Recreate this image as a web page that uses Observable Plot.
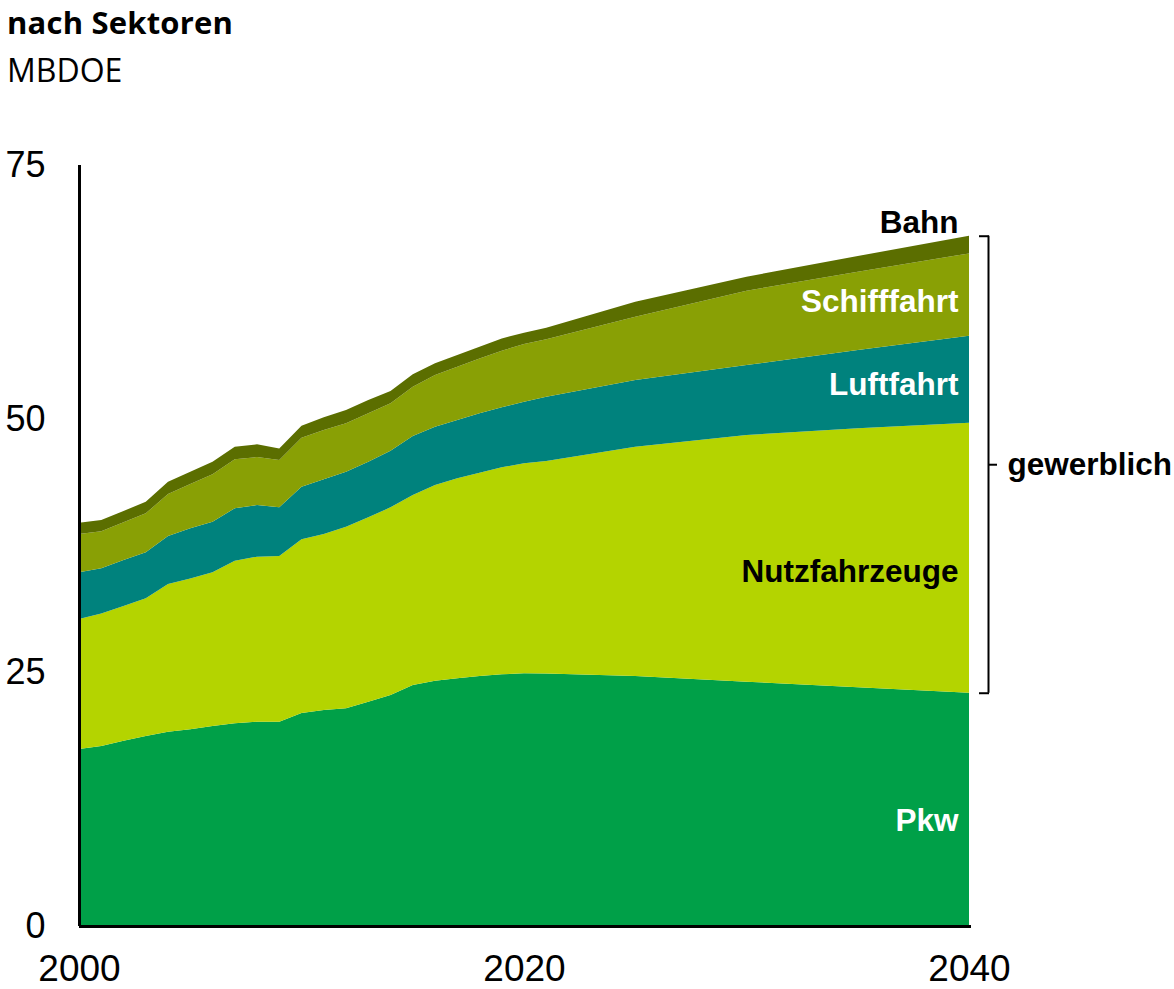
<!DOCTYPE html>
<html>
<head>
<meta charset="utf-8">
<script src="https://cdn.jsdelivr.net/npm/d3@7"></script>
<script src="https://cdn.jsdelivr.net/npm/@observablehq/plot@0.6"></script>
<style>
  body { margin: 0; background: #fff; }
  #header { position: relative; width: 1174px; height: 100px; font-family: "Open Sans", sans-serif; color: #000; }
  #title { position: absolute; left: 7px; top: 10px; font-size: 31px; font-weight: 700; line-height: 0.8; white-space: nowrap; letter-spacing: 0.2px; }
  #subtitle { position: absolute; left: 7px; top: 57px; font-size: 32px; font-weight: 400; line-height: 0.8; white-space: nowrap; }
</style>
</head>
<body>
<div id="header"><div id="title">nach Sektoren</div><div id="subtitle">MBDOE</div></div>
<div id="chart"></div>
<script>
const years  = [2000,2001,2002,2003,2004,2005,2006,2007,2008,2009,2010,2011,2012,2013,2014,2015,2016,2017,2018,2019,2020,2021,2025,2030,2035,2040];
const pkw    = [17.44,17.74,18.26,18.72,19.15,19.38,19.71,19.97,20.13,20.13,21.00,21.29,21.45,22.10,22.77,23.75,24.18,24.41,24.64,24.80,24.90,24.88,24.64,24.08,23.52,22.99];
const nutz   = [12.82,13.07,13.28,13.57,14.55,14.88,15.15,16.03,16.27,16.33,17.11,17.34,17.90,18.18,18.49,18.73,19.28,19.71,20.03,20.40,20.70,20.95,22.60,24.31,25.53,26.61];
const luft   = [4.60,4.44,4.53,4.54,4.73,4.93,4.99,5.16,5.09,4.80,5.19,5.39,5.42,5.48,5.58,5.81,5.75,5.75,5.86,5.92,6.07,6.33,6.57,6.90,7.72,8.58];
const schiff = [3.77,3.65,3.71,3.84,4.14,4.37,4.66,4.83,4.73,4.66,4.82,4.86,4.77,4.77,4.67,4.86,5.09,5.25,5.41,5.58,5.69,5.66,6.24,7.32,7.71,8.11];
const bahn   = [1.12,1.11,1.12,1.15,1.22,1.21,1.25,1.25,1.25,1.15,1.19,1.25,1.31,1.31,1.21,1.22,1.15,1.15,1.15,1.21,1.11,1.13,1.48,1.38,1.55,1.74];

const seriesNames = ["Pkw","Nutzfahrzeuge","Luftfahrt","Schifffahrt","Bahn"];
const seriesValues = [pkw, nutz, luft, schiff, bahn];
const seriesColors = ["#00A048","#B4D400","#00827D","#89A005","#5B6E00"];
const labelColors  = ["#ffffff","#000000","#ffffff","#ffffff","#000000"];
const groupLabel = "gewerblich";
const yTicks = [0,25,50,75];
const xTicks = [2000,2020,2040];

// long table
const rows = [];
seriesNames.forEach((s, i) => years.forEach((yr, j) => rows.push({year: yr, series: s, value: seriesValues[i][j]})));

// label positions at last year from stacked values
const last = years.length - 1;
const lastYear = years[last];
let cum = 0;
const bands = seriesValues.map((vals, i) => { const lo = cum; cum += vals[last]; return {lo, hi: cum}; });
const total = cum;
const labelDy = [11, 14, 5, 7, 0];
const labelFont = "Liberation Sans, Arial, sans-serif";
const labelMarks = seriesNames.map((name, i) => {
  const isTop = i === seriesNames.length - 1;
  const yv = isTop ? bands[i].hi : (bands[i].lo + bands[i].hi) / 2;
  return Plot.text([{x: lastYear, y: yv, t: name}], {
    x: "x", y: "y", text: "t", textAnchor: "end", dx: -11,
    dy: isTop ? -13 : labelDy[i], fill: labelColors[i],
    fontSize: 31.5, fontWeight: "bold", fontFamily: labelFont
  });
});
const bracketLo = bands[0].hi;
const bracketHi = total;
const bracketMid = (bracketLo + bracketHi) / 2;

const chart = Plot.plot({
  width: 1174, height: 889,
  marginTop: 65, marginBottom: 63, marginLeft: 79, marginRight: 205,
  x: {domain: [2000, 2040]},
  y: {domain: [0, 75]},
  color: {domain: seriesNames, range: seriesColors},
  style: {background: "#fff"},
  marks: [
    Plot.areaY(rows, {x: "year", y: "value", z: "series", fill: "series", order: seriesNames}),
    Plot.ruleX([2000], {y1: 0, y2: 75, stroke: "#000", strokeWidth: 3}),
    Plot.ruleY([0], {x1: 2000, x2: 2040, stroke: "#000", strokeWidth: 3, insetRight: -2}),
    Plot.axisX({ticks: xTicks, tickFormat: d => String(d), tickSize: 0, tickPadding: 28, fontSize: 37, fontFamily: labelFont, label: null, fill: "#000"}),
    Plot.axisY({ticks: yTicks, tickSize: 0, tickPadding: 34, fontSize: 36, fontFamily: labelFont, label: null, fill: "#000"}),
    ...labelMarks,
    // bracket
    Plot.ruleX([lastYear], {y1: bracketLo, y2: bracketHi, dx: 19, stroke: "#000", strokeWidth: 2}),
    Plot.ruleY([bracketLo, bracketHi], {x1: lastYear, x2: lastYear, insetLeft: 10, insetRight: -20, stroke: "#000", strokeWidth: 2}),
    Plot.ruleY([bracketMid], {x1: lastYear, x2: lastYear, insetLeft: 19, insetRight: -28, stroke: "#000", strokeWidth: 2}),
    Plot.text([{x: lastYear, y: bracketMid, t: groupLabel}], {x: "x", y: "y", text: "t", textAnchor: "start", dx: 38, fill: "#000", fontSize: 31.5, fontWeight: "bold", fontFamily: labelFont})
  ]
});
document.getElementById("chart").appendChild(chart);
</script>
</body>
</html>
